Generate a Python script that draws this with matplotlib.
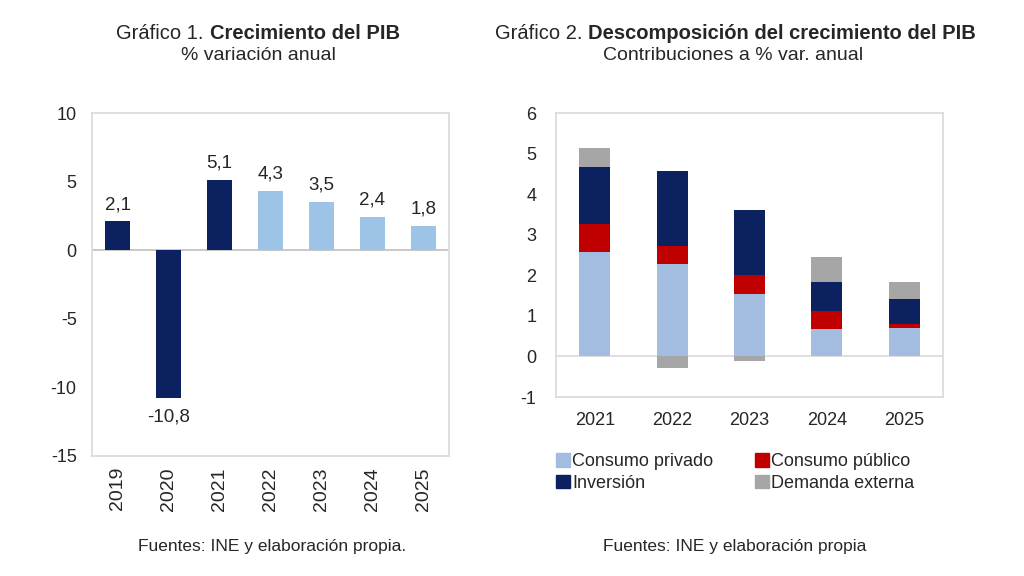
import numpy as np
import matplotlib
matplotlib.use("Agg")
import matplotlib.pyplot as plt
from matplotlib.patches import Patch

plt.rcParams['font.family'] = ['Liberation Sans', 'DejaVu Sans']
plt.rcParams['axes.unicode_minus'] = False

# Gráfico 1: crecimiento del PIB
years1 = ['2019', '2020', '2021', '2022', '2023', '2024', '2025']
pib = [2.1, -10.8, 5.1, 4.3, 3.5, 2.4, 1.8]
pib_labels = ['2,1', '-10,8', '5,1', '4,3', '3,5', '2,4', '1,8']
observed = [True, True, True, False, False, False, False]

# Gráfico 2: contribuciones
years2 = ['2021', '2022', '2023', '2024', '2025']
consumo_privado = [2.58, 2.28, 1.53, 0.67, 0.71]
consumo_publico = [0.68, 0.43, 0.47, 0.45, 0.10]
inversion = [1.42, 1.87, 1.61, 0.72, 0.61]
demanda_externa = [0.46, -0.29, -0.12, 0.60, 0.42]

NAVY = '#0c215f'
LIGHT = '#9dc3e6'
PRIV = '#a3bde0'
RED = '#c00000'
GRAY = '#a6a6a6'
FRAME = '#d9d9d9'
TXT = '#262626'

fig = plt.figure(figsize=(10.24, 5.76), dpi=100)

ax1 = fig.add_axes([92/1024, 1-456/576, 357/1024, 343/576])
ax2 = fig.add_axes([556/1024, 1-397/576, 387/1024, 284/576])

for ax in (ax1, ax2):
    for s in ax.spines.values():
        s.set_color(FRAME)
        s.set_linewidth(1.2)
    ax.tick_params(length=0, labelsize=13, colors=TXT)

# --- chart 1
x1 = np.arange(len(years1))
cols = [NAVY if o else LIGHT for o in observed]
ax1.bar(x1, pib, width=0.5, color=cols, zorder=2)
ax1.axhline(0, color='#bfbfbf', lw=1.2, zorder=1)
ax1.set_xlim(-0.5, len(years1)-0.5)
ax1.set_ylim(-15, 10)
ax1.set_yticks([-15, -10, -5, 0, 5, 10])
ax1.tick_params(axis='y', pad=11)
ax1.tick_params(axis='x', pad=8, labelsize=14)
ax1.set_xticks(x1)
ax1.set_xticklabels(years1, rotation=90)
for xi, v, lab in zip(x1, pib, pib_labels):
    if v >= 0:
        ax1.annotate(lab, (xi, v), xytext=(0, 6), textcoords='offset points',
                     ha='center', va='bottom', fontsize=13.5, color=TXT)
    else:
        ax1.annotate(lab, (xi, v), xytext=(0, -7), textcoords='offset points',
                     ha='center', va='top', fontsize=13.5, color=TXT)

# --- chart 2
x2 = np.arange(len(years2))
w = 0.4
priv = np.array(consumo_privado)
pub = np.array(consumo_publico)
inv = np.array(inversion)
dem = np.array(demanda_externa)
ax2.bar(x2, priv, w, color=PRIV, zorder=2)
ax2.bar(x2, pub, w, bottom=priv, color=RED, zorder=2)
ax2.bar(x2, inv, w, bottom=priv+pub, color=NAVY, zorder=2)
dem_bottom = np.where(dem >= 0, priv+pub+inv, 0)
ax2.bar(x2, dem, w, bottom=dem_bottom, color=GRAY, zorder=2)
ax2.axhline(0, color='#d9d9d9', lw=1.2, zorder=1)
ax2.set_xlim(-0.5, len(years2)-0.5)
ax2.set_ylim(-1, 6)
ax2.set_yticks(range(-1, 7))
ax2.tick_params(axis='y', pad=14)
ax2.tick_params(axis='x', pad=11)
ax2.set_xticks(x2)
ax2.set_xticklabels(years2)

handles = [Patch(color=PRIV), Patch(color=RED), Patch(color=NAVY), Patch(color=GRAY)]
labels = ['Consumo privado', 'Consumo público', 'Inversión', 'Demanda externa']
fig.legend([handles[0], handles[2], handles[1], handles[3]],
           [labels[0], labels[2], labels[1], labels[3]],
           ncol=2, loc='upper left', bbox_to_anchor=(549/1024, 1-446/576),
           frameon=False, fontsize=13, handlelength=0.75, handleheight=0.75,
           handletextpad=0.15, columnspacing=2.3, labelspacing=0.25,
           borderaxespad=0, labelcolor=TXT)

# titles with mixed weight
fig.canvas.draw()
r = fig.canvas.get_renderer()


def mixed_title(cx, y, normal, bold, size=14.5):
    t1 = fig.text(0, y, normal, fontsize=size, color=TXT, va='baseline')
    t2 = fig.text(0, y, bold, fontsize=size, color=TXT, va='baseline', fontweight='bold')
    w1 = t1.get_window_extent(r).width / fig.bbox.width
    w2 = t2.get_window_extent(r).width / fig.bbox.width
    start = cx - (w1 + w2) / 2
    t1.set_x(start)
    t2.set_x(start + w1)


mixed_title(258/1024, 1-39/576, 'Gráfico 1. ', 'Crecimiento del PIB')
mixed_title(735/1024, 1-39/576, 'Gráfico 2. ', 'Descomposición del crecimiento del PIB')
fig.text(258/1024, 1-60/576, '% variación anual', ha='center', va='baseline', fontsize=14, color=TXT)
fig.text(733/1024, 1-60/576, 'Contribuciones a % var. anual', ha='center', va='baseline', fontsize=14, color=TXT)

fig.text(272/1024, 1-551/576, 'Fuentes: INE y elaboración propia.', ha='center', va='baseline', fontsize=12.5, color=TXT)
fig.text(735/1024, 1-551/576, 'Fuentes: INE y elaboración propia', ha='center', va='baseline', fontsize=12.5, color=TXT)

fig.savefig('out.png', dpi=100, facecolor='white')
